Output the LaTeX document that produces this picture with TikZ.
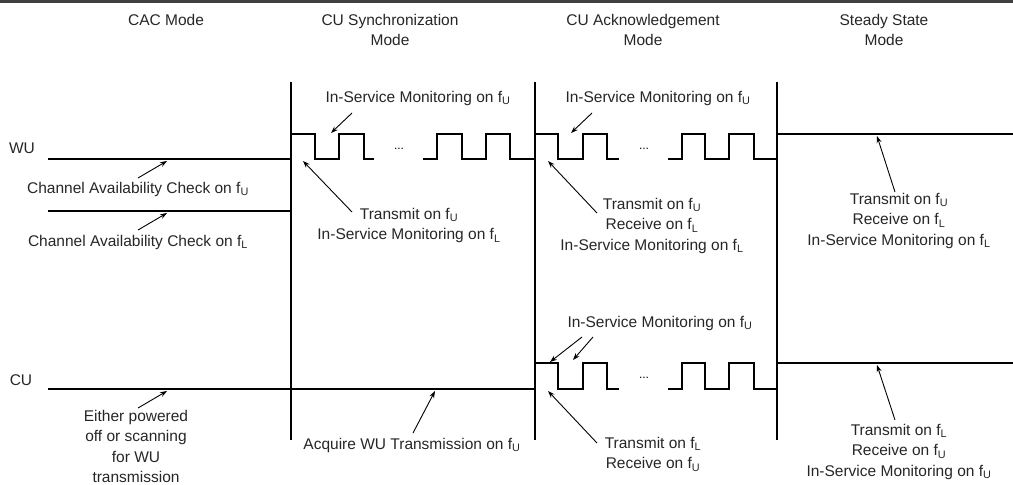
\documentclass[tikz,border=0pt]{standalone}
\usepackage{fontspec}
\setmainfont{Liberation Sans}
\usetikzlibrary{arrows.meta}
\newcommand{\fU}{f\textsubscript{U}}
\newcommand{\fL}{f\textsubscript{L}}
\tikzset{
  sig/.style={line width=1.5pt, line join=miter},
  bar/.style={line width=1.5pt},
  lab/.style={font=\fontsize{15.5}{20.5}\selectfont, inner sep=0pt, align=center, text=black!85},
  ptr/.style={line width=0.9pt, -{Stealth[length=7pt,width=5pt]}},
  dots/.style={font=\fontsize{12}{12}\selectfont, inner sep=0pt, anchor=base},
}
\begin{document}
\begin{tikzpicture}[x=1pt,y=-1pt]
\useasboundingbox (0,0) rectangle (1013,485);
\fill[black!75] (0,0) rectangle (1013,3);
% headers
\node[lab,anchor=north] (hCAC) at (166,14) {CAC Mode};
\node[lab,anchor=north] (hSync) at (390,14) {CU Synchronization\\Mode};
\node[lab,anchor=north] (hAck) at (643,14) {CU Acknowledgement\\Mode};
\node[lab,anchor=north] (hSteady) at (884,14) {Steady State\\Mode};
% mode separators
\draw[bar] (291,82) -- (291,440);
\draw[bar] (535,82) -- (535,440);
\draw[bar] (777,82) -- (777,440);
% unit labels
\node[lab] (wu) at (22,148) {WU};
\node[lab] (cu) at (21,380) {CU};
% WU signals
\draw[sig] (48,159) -- (291,159);
\draw[sig] (48,211) -- (291,211);
\draw[sig] (291,134) -- (315,134) -- (315,159) -- (339,159) -- (339,134) -- (364,134) -- (364,159) -- (374,159);
\draw[sig] (423,159) -- (437,159) -- (437,134) -- (462,134) -- (462,159) -- (486,159) -- (486,134) -- (510,134) -- (510,159) -- (535,159);
\draw[sig] (535,134) -- (558,134) -- (558,159) -- (583,159) -- (583,134) -- (607,134) -- (607,159) -- (619,159);
\draw[sig] (668,159) -- (682,159) -- (682,134) -- (705,134) -- (705,159) -- (729,159) -- (729,134) -- (754,134) -- (754,159) -- (777,159);
\draw[sig] (777,134) -- (1013,134);
\node[dots] (d1) at (399,149) {...};
\node[dots] (d2) at (644,149) {...};
% CU signals
\draw[sig] (48,389) -- (535,389);
\draw[sig] (535,363) -- (558,363) -- (558,389) -- (583,389) -- (583,363) -- (607,363) -- (607,389) -- (619,389);
\draw[sig] (668,389) -- (682,389) -- (682,363) -- (705,363) -- (705,389) -- (729,389) -- (729,363) -- (754,363) -- (754,389) -- (777,389);
\draw[sig] (777,363) -- (1013,363);
\node[dots] (d3) at (644,378) {...};
% WU texts
\node[lab] (cac1) at (138,189) {Channel Availability Check on \fU};
\node[lab] (cac2) at (138,242) {Channel Availability Check on \fL};
\node[lab] (syncMon) at (418,98) {In-Service Monitoring on \fU};
\node[lab,anchor=north] (syncTx) at (409,208) {Transmit on \fU\\In-Service Monitoring on \fL};
\node[lab] (ackMon) at (658,98) {In-Service Monitoring on \fU};
\node[lab,anchor=north] (ackTx) at (652,198) {Transmit on \fU\\Receive on \fL\\In-Service Monitoring on \fL};
\node[lab,anchor=north] (stWU) at (899,193) {Transmit on \fU\\Receive on \fL\\In-Service Monitoring on \fL};
% CU texts
\node[lab,anchor=north] (cuOff) at (136,410) {Either powered\\off or scanning\\for WU\\transmission};
\node[lab] (acq) at (412,445) {Acquire WU Transmission on \fU};
\node[lab] (cuAckMon) at (660,323) {In-Service Monitoring on \fU};
\node[lab,anchor=north] (cuAckTx) at (653,437) {Transmit on \fL\\Receive on \fU};
\node[lab,anchor=north] (stCU) at (899,424) {Transmit on \fL\\Receive on \fU\\In-Service Monitoring on \fU};
% pointer coordinates
\coordinate (a1s) at (138,178); \coordinate (a1e) at (167,161);
\coordinate (a2s) at (138,230); \coordinate (a2e) at (167,213);
\coordinate (a3s) at (352,113); \coordinate (a3e) at (331,133);
\coordinate (a4s) at (352,212); \coordinate (a4e) at (303,161);
\coordinate (a5s) at (592,113); \coordinate (a5e) at (571,133);
\coordinate (a6s) at (597,213); \coordinate (a6e) at (548,161);
\coordinate (a7s) at (895,192); \coordinate (a7e) at (877,136);
\coordinate (b1s) at (138,408); \coordinate (b1e) at (167,391);
\coordinate (b2s) at (413,433); \coordinate (b2e) at (435,391);
\coordinate (b3s) at (582,337); \coordinate (b3e) at (550,362);
\coordinate (b4s) at (593,337); \coordinate (b4e) at (573,360);
\coordinate (b5s) at (597,443); \coordinate (b5e) at (548,391);
\coordinate (b6s) at (895,420); \coordinate (b6e) at (877,365);
\foreach \p in {a1,a2,a3,a4,a5,a6,a7,b1,b2,b3,b4,b5,b6}
  \draw[ptr] (\p s) -- (\p e);
\end{tikzpicture}
\end{document}
